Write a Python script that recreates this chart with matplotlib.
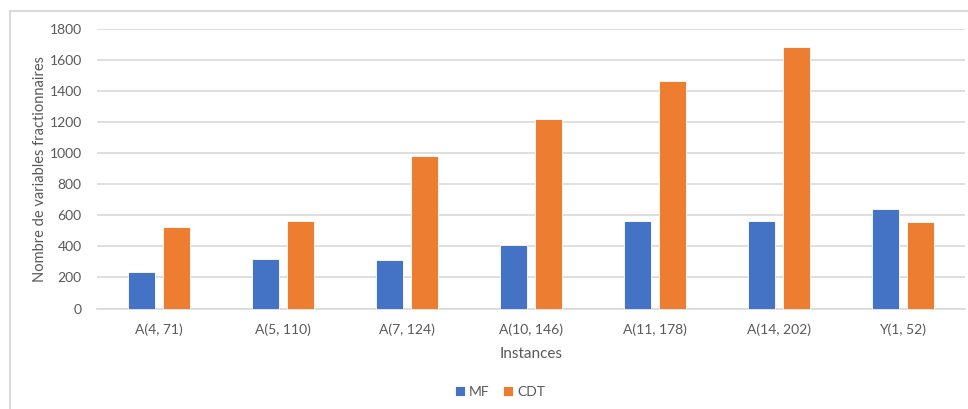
import numpy as np
import matplotlib.pyplot as plt
from matplotlib.patches import Rectangle

categories = ["A(4, 71)", "A(5, 110)", "A(7, 124)", "A(10, 146)",
              "A(11, 178)", "A(14, 202)", "Y(1, 52)"]
mf = [234, 322, 311, 412, 565, 565, 642]
cdt = [528, 565, 981, 1220, 1465, 1684, 560]
y_ticks = [0, 200, 400, 600, 800, 1000, 1200, 1400, 1600, 1800]

plt.rcParams['font.family'] = ['Lato', 'DejaVu Sans']
text_color = '#595959'
grid_color = '#d9d9d9'

W, H = 968, 409
fig = plt.figure(figsize=(W / 100, H / 100), dpi=100)

# 图表外框（右侧和底部超出画布）
fig.patches.append(Rectangle((10 / W, -0.1), 1.2, 1 - 11 / H + 0.1,
                             transform=fig.transFigure, fill=False,
                             edgecolor=grid_color, linewidth=1.5))

ax = fig.add_axes([97 / W, 1 - 308.5 / H, (965 - 97) / W, (308.5 - 29) / H])

x = np.arange(len(categories))
w = 0.22
off = 0.141
ax.bar(x - off, mf, w, color='#4472C4', edgecolor='white', linewidth=0.6,
       label='MF', zorder=3)
ax.bar(x + off, cdt, w, color='#ED7D31', edgecolor='white', linewidth=0.6,
       label='CDT', zorder=3)

ax.set_xlim(-0.5, len(categories) - 0.5)
ax.set_ylim(0, 1800)
ax.set_yticks(y_ticks)
ax.set_xticks(x)
ax.set_xticklabels(categories)
ax.yaxis.grid(True, color=grid_color, linewidth=1.2, zorder=0)
ax.set_axisbelow(True)
for s in ['top', 'right', 'left']:
    ax.spines[s].set_visible(False)
ax.spines['bottom'].set_color(grid_color)
ax.spines['bottom'].set_linewidth(1.2)
ax.tick_params(axis='both', length=0, colors=text_color, labelsize=10)
ax.tick_params(axis='y', pad=11)
ax.tick_params(axis='x', pad=11)

ax.set_xlabel('Instances', color=text_color, fontsize=11, labelpad=8)
ax.set_ylabel('Nombre de variables fractionnaires', color=text_color,
              fontsize=10.5, labelpad=1.5)

fig.legend(loc='center', bbox_to_anchor=(500 / W, 1 - 392 / H), ncol=2,
           frameon=False, fontsize=10, handlelength=0.7, handleheight=0.7,
           handletextpad=0.3, columnspacing=1.0, labelcolor=text_color)

fig.savefig('out.png', dpi=100)
